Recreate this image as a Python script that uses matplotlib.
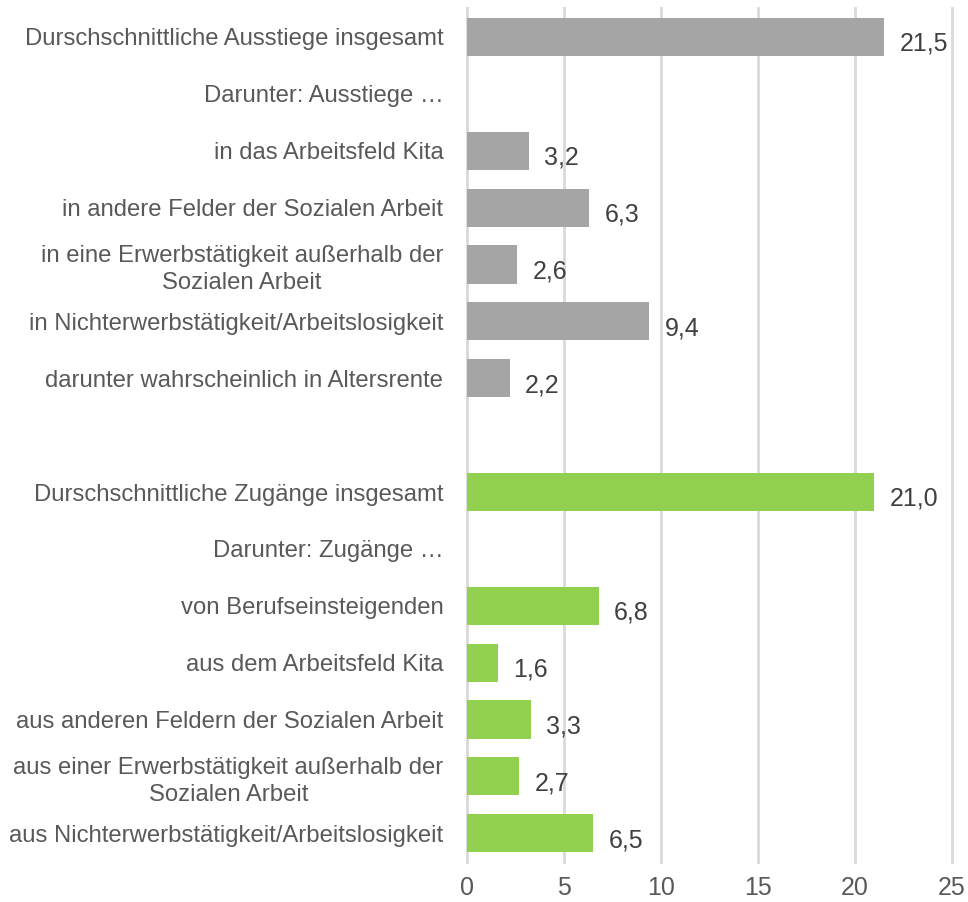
import numpy as np
import matplotlib.pyplot as plt

plt.rcParams["font.family"] = ["Liberation Sans", "DejaVu Sans"]

# Kategorien (leerer Eintrag = Abstand zwischen den Gruppen)
labels = [
    "Durschschnittliche Ausstiege insgesamt",
    "Darunter: Ausstiege …",
    "in das Arbeitsfeld Kita",
    "in andere Felder der Sozialen Arbeit",
    "in eine Erwerbstätigkeit außerhalb der\nSozialen Arbeit",
    "in Nichterwerbstätigkeit/Arbeitslosigkeit",
    "darunter wahrscheinlich in Altersrente",
    "",
    "Durschschnittliche Zugänge insgesamt",
    "Darunter: Zugänge …",
    "von Berufseinsteigenden",
    "aus dem Arbeitsfeld Kita",
    "aus anderen Feldern der Sozialen Arbeit",
    "aus einer Erwerbstätigkeit außerhalb der\nSozialen Arbeit",
    "aus Nichterwerbstätigkeit/Arbeitslosigkeit",
]
values = [21.5, None, 3.2, 6.3, 2.6, 9.4, 2.2, None,
          21.0, None, 6.8, 1.6, 3.3, 2.7, 6.5]
groups = ["aus"] * 8 + ["zu"] * 7

colors = {"aus": "#a5a5a5", "zu": "#92d050"}

fig = plt.figure(figsize=(9.68, 9.02), dpi=100)
ax = fig.add_axes([0.4824, 0.0446, 0.501, 0.946])

y = np.arange(len(labels))
for i, v in enumerate(values):
    if v is None:
        continue
    ax.barh(y[i], v, height=0.67, color=colors[groups[i]], zorder=3)
    ax.annotate(f"{v:.1f}".replace(".", ","), (v, y[i]), xytext=(11, -5),
                textcoords="offset points", va="center", ha="left",
                fontsize=18, color="#404040")

ax.set_xlim(0, 25)
ax.set_ylim(len(labels) - 0.5, -0.5)
ax.set_xticks([0, 5, 10, 15, 20, 25])
ax.set_yticks(y)
ax.set_yticklabels(labels, fontsize=17.2, color="#595959", multialignment="center",
                   linespacing=1.3)
ax.tick_params(axis="x", labelsize=18, colors="#595959", length=0, pad=10)
ax.tick_params(axis="y", length=0, pad=17)
ax.grid(axis="x", color="#d9d9d9", linewidth=2, zorder=0)
for line in ax.get_xgridlines():
    line.set_clip_on(False)
for s in ax.spines.values():
    s.set_visible(False)

fig.savefig("out.png", dpi=100)
